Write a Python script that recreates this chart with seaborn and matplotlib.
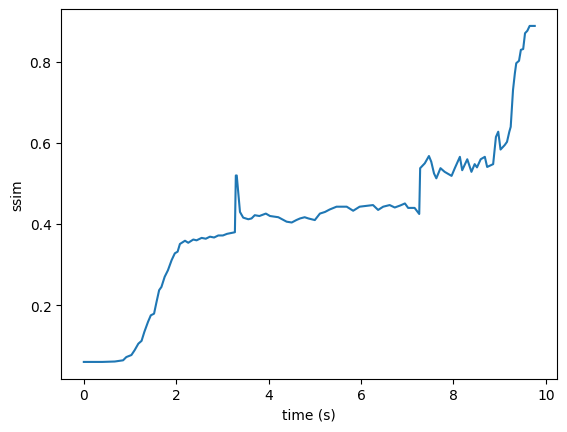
import matplotlib
matplotlib.use("Agg")
import matplotlib.pyplot as plt
import pandas as pd
import seaborn as sns

time_s = [0.00, 0.40, 0.67, 0.85, 0.92, 1.03, 1.10, 1.18, 1.25, 1.31, 1.39, 1.45,
          1.52, 1.57, 1.63, 1.68, 1.75, 1.82, 1.90, 1.97, 2.03, 2.08, 2.19, 2.26,
          2.37, 2.44, 2.55, 2.64, 2.73, 2.82, 2.91, 3.01, 3.10, 3.23, 3.27, 3.29,
          3.31, 3.38, 3.45, 3.56, 3.63, 3.70, 3.80, 3.94, 4.03, 4.21, 4.39, 4.50,
          4.60, 4.68, 4.78, 4.86, 5.00, 5.11, 5.22, 5.32, 5.47, 5.69, 5.83, 5.97,
          6.26, 6.37, 6.48, 6.62, 6.73, 6.85, 6.95, 7.02, 7.16, 7.26, 7.28, 7.38,
          7.47, 7.52, 7.58, 7.63, 7.72, 7.81, 7.96, 8.03, 8.14, 8.19, 8.30, 8.39,
          8.46, 8.51, 8.59, 8.68, 8.73, 8.86, 8.92, 8.97, 9.02, 9.11, 9.16, 9.21,
          9.24, 9.29, 9.33, 9.36, 9.42, 9.46, 9.51, 9.55, 9.60, 9.65, 9.76]
ssim = [0.060, 0.060, 0.061, 0.064, 0.072, 0.077, 0.089, 0.105, 0.112, 0.134, 0.159, 0.175,
        0.179, 0.206, 0.237, 0.245, 0.270, 0.286, 0.311, 0.328, 0.332, 0.351, 0.359, 0.354,
        0.362, 0.360, 0.366, 0.364, 0.369, 0.367, 0.372, 0.372, 0.376, 0.379, 0.380, 0.520,
        0.520, 0.430, 0.416, 0.412, 0.414, 0.422, 0.420, 0.426, 0.420, 0.417, 0.406, 0.404,
        0.410, 0.414, 0.417, 0.414, 0.410, 0.426, 0.430, 0.436, 0.443, 0.443, 0.433, 0.443,
        0.447, 0.435, 0.443, 0.447, 0.441, 0.446, 0.451, 0.440, 0.440, 0.425, 0.538, 0.550,
        0.568, 0.554, 0.525, 0.513, 0.538, 0.529, 0.519, 0.538, 0.566, 0.533, 0.560, 0.529,
        0.548, 0.540, 0.560, 0.566, 0.541, 0.548, 0.615, 0.628, 0.584, 0.595, 0.603, 0.628,
        0.640, 0.731, 0.772, 0.797, 0.803, 0.830, 0.832, 0.871, 0.877, 0.889, 0.889]

df = pd.DataFrame({"time (s)": time_s, "ssim": ssim})

fig, ax = plt.subplots(figsize=(6.4, 4.8), dpi=100)
sns.lineplot(data=df, x="time (s)", y="ssim", ax=ax, color="#1f77b4", linewidth=1.5)
ax.set_xticks([0, 2, 4, 6, 8, 10])
ax.set_yticks([0.2, 0.4, 0.6, 0.8])

fig.savefig("out.png", bbox_inches="tight")
